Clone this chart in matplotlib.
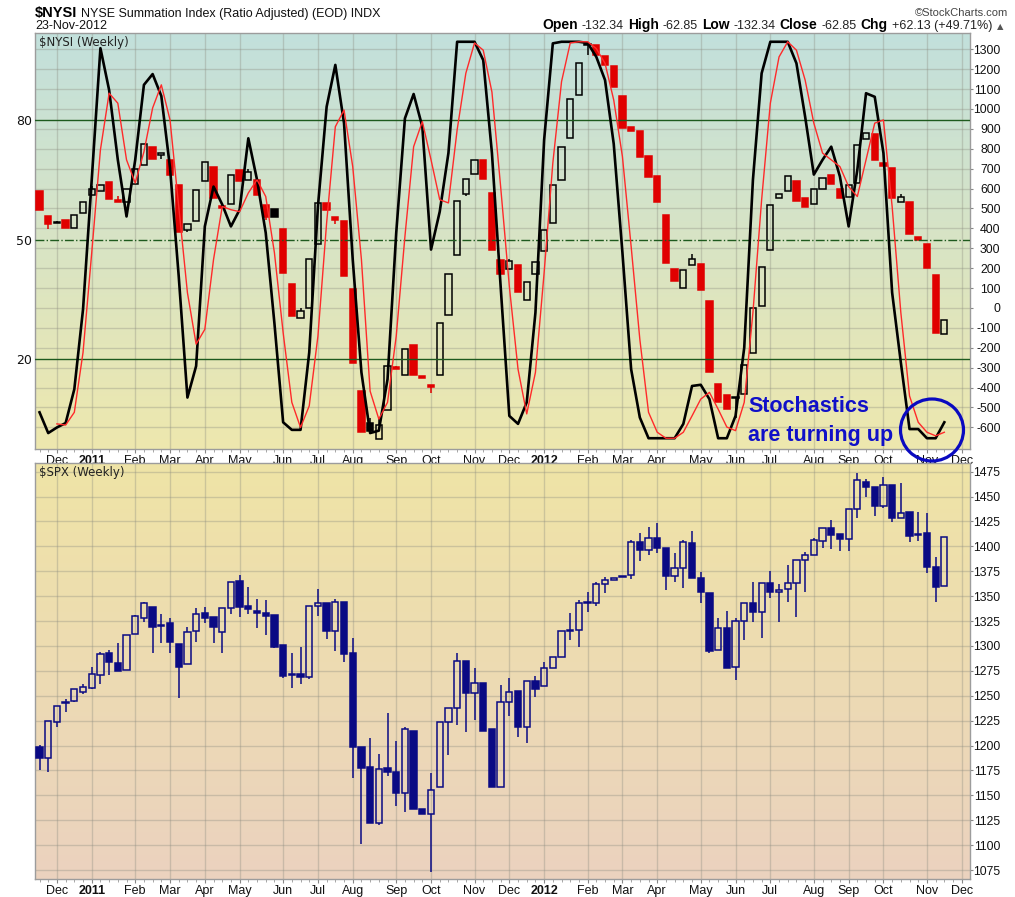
import matplotlib
matplotlib.use("Agg")
import matplotlib.pyplot as plt
from matplotlib.patches import Rectangle, Ellipse
from matplotlib.colors import LinearSegmentedColormap
import numpy as np
import pandas as pd

# ---- data (weekly, week of 22-Nov-2010 .. week of 19-Nov-2012) ----
first_week = "2010-11-22"

nysi_open = [590, 462, 430, 440, 403, 477, 570, 588, 632, 545,
             532, 623, 718, 810, 773, 743, 620, 390, 435, 637,
             710, 509, 520, 695, 643, 643, 518, 498, 398, 120,
             -52, -2, 323, 527, 457, 435, 93, -415, -580, -660,
             -515, -298, -335, -185, -345, -390, -335, -35, 265, 573,
             673, 743, 577, 243, 198, 218, 40, 173, 285, 428,
             643, 853, 1070, 1322, 1323, 1265, 1215, 1065, 910, 890,
             765, 665, 465, 198, 102, 215, 223, 35, -382, -440,
             -452, -435, -227, 10, 293, 552, 587, 637, 552, 520,
             598, 668, 598, 560, 628, 848, 873, 728, 702, 532,
             535, 357, 320, 165, -132.34]
nysi_high = [590, 462, 435, 440, 465, 532, 612, 618, 632, 565,
             598, 698, 823, 810, 775, 743, 620, 423, 593, 735,
             710, 509, 668, 695, 700, 643, 518, 498, 398, 120,
             -2, 248, 527, 527, 457, 435, 93, -415, -552, -552,
             -293, -290, -207, -185, -345, -390, -77, 173, 540, 648,
             743, 743, 577, 243, 248, 218, 132, 232, 393, 618,
             807, 1048, 1232, 1327, 1323, 1265, 1215, 1065, 910, 890,
             765, 665, 465, 198, 190, 273, 223, 35, -382, -440,
             -449, -285, -2, 207, 518, 573, 665, 637, 552, 598,
             653, 668, 598, 618, 818, 878, 873, 728, 702, 572,
             535, 357, 320, 165, -62.85]
nysi_low = [490, 398, 428, 403, 403, 477, 570, 588, 548, 532,
            532, 623, 718, 748, 748, 668, 382, 383, 435, 637,
            552, 505, 520, 637, 643, 568, 443, 457, 177, -40,
            -52, -2, 323, 493, 423, 162, -277, -622, -620, -660,
            -515, -305, -335, -335, -350, -430, -335, -35, 265, 562,
            673, 648, 293, 173, 198, 82, 40, 173, 285, 428,
            643, 853, 1070, 1273, 1270, 1223, 1112, 907, 890, 760,
            657, 532, 227, 137, 102, 215, 90, -323, -473, -507,
            -552, -435, -227, 10, 293, 552, 587, 540, 507, 520,
            598, 623, 553, 560, 628, 848, 743, 712, 553, 532,
            373, 340, 202, -127, -132.34]
nysi_close = [490, 420, 432, 403, 465, 532, 598, 618, 548, 532,
              598, 698, 823, 748, 775, 668, 382, 423, 593, 735,
              552, 505, 668, 637, 685, 568, 457, 457, 177, -40,
              -15, 248, 527, 493, 443, 162, -277, -622, -620, -590,
              -293, -305, -207, -335, -350, -394, -77, 173, 540, 648,
              743, 648, 293, 173, 237, 82, 132, 232, 393, 618,
              807, 1048, 1232, 1327, 1270, 1223, 1112, 907, 890, 760,
              657, 532, 227, 137, 190, 248, 90, -323, -473, -507,
              -449, -285, -2, 207, 518, 573, 665, 540, 507, 598,
              653, 623, 553, 618, 818, 878, 743, 712, 553, 557,
              373, 340, 202, -127, -62.85]

# slow stochastic of $NYSI: %K (black) and %D (red)
stoch_k = [6.7, 1.5, 2.9, 4.0, 12.5, 32.5, 65.0, 98.0, 87.5, 70.0,
           55.8, 70.0, 88.8, 91.5, 86.0, 68.0, 40.8, 10.4, 18.3, 53.3,
           63.3, 58.8, 53.3, 57.5, 75.4, 65.0, 51.7, 29.0, 4.2, 2.3,
           2.3, 21.7, 58.3, 83.3, 93.8, 79.2, 45.0, 16.7, 1.5, 2.1,
           15.0, 51.7, 80.4, 86.5, 78.3, 47.5, 57.0, 71.7, 99.6, 99.6,
           99.6, 95.0, 71.7, 38.3, 5.8, 3.8, 9.2, 31.7, 75.0, 99.2,
           99.6, 99.6, 99.6, 99.3, 95.8, 90.0, 74.0, 46.7, 17.5, 5.4,
           0.2, 0.2, 0.2, 0.2, 3.8, 13.3, 13.6, 10.0, 0.2, 0.2,
           5.8, 22.9, 65.0, 91.7, 99.6, 99.6, 99.6, 94.2, 80.8, 66.3,
           70.0, 73.3, 65.8, 53.3, 67.5, 86.7, 85.8, 71.7, 36.7, 19.2,
           2.5, 2.5, 0.2, 0.2, 4.2]
stoch_d = [None, None, 3.8, 3.5, 6.7, 21.7, 46.7, 72.5, 86.7, 84.2,
           70.0, 64.2, 72.0, 83.0, 88.8, 80.0, 58.3, 36.7, 23.8, 27.5,
           45.0, 58.3, 57.5, 57.0, 61.7, 65.0, 60.8, 46.7, 26.7, 9.2,
           2.9, 8.3, 25.8, 54.2, 78.3, 82.5, 68.3, 45.0, 12.0, 5.0,
           9.2, 25.8, 50.8, 73.3, 79.6, 70.0, 60.0, 59.2, 77.5, 91.7,
           99.3, 97.5, 87.0, 63.3, 38.3, 17.5, 6.3, 16.7, 41.7, 69.2,
           89.6, 99.3, 99.6, 99.6, 97.9, 94.2, 85.0, 70.8, 48.3, 25.0,
           6.7, 1.7, 0.2, 0.2, 1.7, 5.8, 10.0, 11.7, 7.5, 3.0,
           2.1, 9.2, 31.7, 60.0, 84.2, 95.8, 99.6, 97.5, 90.0, 79.2,
           71.7, 70.0, 68.3, 63.3, 60.8, 70.0, 79.2, 80.0, 58.3, 31.7,
           10.8, 4.2, 1.7, 0.8, 1.7]

spx_open = [1198.9, 1187.8, 1224.0, 1242.5, 1245.1, 1254.1, 1257.5, 1271.0, 1292.6, 1282.6,
            1275.8, 1311.7, 1328.4, 1338.8, 1321.0, 1322.7, 1301.6, 1281.5, 1315.0, 1332.8,
            1328.7, 1313.7, 1337.8, 1365.2, 1340.1, 1334.3, 1332.8, 1331.1, 1301.0, 1270.8,
            1271.8, 1268.5, 1340.1, 1342.8, 1315.4, 1344.5, 1292.6, 1198.5, 1178.0, 1122.5,
            1177.1, 1173.7, 1152.6, 1214.6, 1135.9, 1130.9, 1158.0, 1224.0, 1238.0, 1284.9,
            1253.1, 1263.1, 1216.3, 1158.0, 1244.1, 1254.8, 1219.0, 1264.8, 1259.8, 1277.5,
            1289.3, 1315.0, 1316.0, 1344.0, 1342.8, 1361.9, 1366.6, 1370.3, 1371.3, 1404.1,
            1396.4, 1408.1, 1398.1, 1370.6, 1378.6, 1403.0, 1368.0, 1352.9, 1296.0, 1318.4,
            1278.5, 1325.1, 1342.8, 1334.4, 1362.9, 1354.5, 1357.2, 1362.9, 1386.3, 1391.4,
            1405.4, 1418.1, 1412.1, 1407.1, 1437.2, 1464.3, 1460.0, 1440.9, 1461.7, 1428.2,
            1434.2, 1412.1, 1413.1, 1379.6, 1360.2]
spx_high = [1200.5, 1224.6, 1240.0, 1246.7, 1257.0, 1261.5, 1279.0, 1294.0, 1296.0, 1302.6,
            1311.0, 1331.1, 1344.5, 1338.8, 1331.8, 1327.7, 1301.6, 1319.4, 1337.8, 1339.5,
            1328.7, 1337.8, 1363.9, 1371.3, 1358.9, 1347.2, 1345.8, 1331.1, 1301.0, 1292.6,
            1299.3, 1340.1, 1356.9, 1342.8, 1346.8, 1344.5, 1307.7, 1198.5, 1207.9, 1191.1,
            1232.3, 1204.5, 1219.0, 1214.6, 1135.9, 1172.0, 1224.0, 1237.4, 1292.6, 1284.9,
            1277.5, 1263.1, 1216.3, 1260.8, 1268.2, 1254.8, 1264.8, 1269.8, 1284.2, 1289.3,
            1315.0, 1333.5, 1346.2, 1354.5, 1364.6, 1369.6, 1368.6, 1370.3, 1406.4, 1413.1,
            1419.8, 1423.2, 1398.1, 1393.0, 1406.4, 1415.5, 1374.0, 1352.9, 1328.4, 1335.1,
            1328.4, 1342.8, 1363.9, 1362.9, 1375.3, 1361.9, 1381.3, 1386.3, 1394.7, 1408.0,
            1418.1, 1426.5, 1412.1, 1437.2, 1473.4, 1467.7, 1460.0, 1470.0, 1461.7, 1463.3,
            1434.2, 1434.2, 1433.2, 1389.7, 1409.1]
spx_low = [1175.4, 1173.7, 1219.0, 1233.3, 1244.0, 1251.4, 1257.0, 1262.0, 1270.8, 1274.9,
           1275.8, 1311.7, 1324.4, 1292.6, 1302.6, 1292.6, 1248.1, 1281.5, 1304.3, 1322.7,
           1302.6, 1292.6, 1331.8, 1329.4, 1331.8, 1317.7, 1311.0, 1297.6, 1268.2, 1257.5,
           1261.5, 1266.8, 1330.4, 1306.7, 1294.9, 1283.6, 1167.7, 1100.8, 1122.5, 1120.2,
           1169.7, 1139.6, 1133.6, 1135.9, 1130.9, 1073.3, 1158.0, 1190.5, 1220.6, 1213.9,
           1225.6, 1214.6, 1158.0, 1158.0, 1230.0, 1208.9, 1202.2, 1248.4, 1259.8, 1277.5,
           1289.3, 1306.0, 1299.3, 1334.5, 1340.5, 1352.9, 1366.6, 1369.0, 1367.3, 1385.3,
           1391.4, 1393.0, 1356.2, 1364.6, 1358.6, 1367.9, 1342.8, 1292.6, 1296.0, 1277.5,
           1265.8, 1306.0, 1324.4, 1307.7, 1347.8, 1324.4, 1344.5, 1329.4, 1353.9, 1391.4,
           1398.0, 1397.1, 1395.4, 1395.4, 1428.2, 1450.0, 1430.9, 1438.2, 1424.8, 1428.2,
           1404.1, 1405.4, 1373.0, 1343.8, 1360.2]
spx_close = [1187.8, 1224.6, 1240.0, 1243.5, 1256.4, 1258.4, 1271.5, 1292.0, 1283.6, 1274.9,
             1311.0, 1330.1, 1343.5, 1319.4, 1320.5, 1304.3, 1279.2, 1314.4, 1331.8, 1328.4,
             1319.4, 1337.8, 1363.9, 1339.5, 1337.5, 1333.8, 1330.4, 1299.3, 1270.2, 1271.5,
             1268.5, 1340.1, 1342.8, 1315.4, 1344.5, 1291.9, 1198.9, 1177.8, 1122.5, 1176.1,
             1173.7, 1152.6, 1216.3, 1135.9, 1130.9, 1155.3, 1224.0, 1237.4, 1284.9, 1253.1,
             1263.1, 1214.6, 1158.0, 1244.1, 1254.1, 1219.0, 1264.8, 1256.8, 1277.5, 1289.3,
             1315.0, 1315.8, 1343.5, 1343.0, 1361.9, 1366.3, 1368.6, 1369.0, 1404.1, 1396.4,
             1408.1, 1398.1, 1370.6, 1378.6, 1404.1, 1368.6, 1354.5, 1295.0, 1318.4, 1277.5,
             1325.1, 1342.8, 1334.4, 1362.9, 1353.9, 1356.2, 1362.9, 1386.3, 1391.4, 1406.4,
             1418.1, 1411.4, 1407.1, 1437.2, 1466.7, 1460.0, 1440.9, 1461.7, 1428.2, 1433.2,
             1410.8, 1411.4, 1379.6, 1359.6, 1409.1]

nysi_ticks = list(range(-600, 1301, 100))
spx_ticks = list(range(1075, 1476, 25))
stoch_levels = [20, 50, 80]

# ---- figure ----
W, H = 1015, 897
fig = plt.figure(figsize=(W / 100, H / 100), dpi=100)
fig.patch.set_facecolor("white")
NARROW = ["Liberation Sans Narrow", "Liberation Sans", "DejaVu Sans"]
SANS = ["Liberation Sans", "DejaVu Sans"]


def px_box(left, top, right, bottom):
    return [left / W, 1 - bottom / H, (right - left) / W, (bottom - top) / H]


def gradient(ax, top, bottom):
    cmap = LinearSegmentedColormap.from_list("bg", [bottom, top])
    ax.imshow(np.linspace(0, 1, 256)[:, None], cmap=cmap, origin="lower",
              extent=[0, 1, 0, 1], transform=ax.transAxes, aspect="auto",
              zorder=0)


def draw_candles(ax, o, h, l, c, colors, filled, width, min_h, lw=1.1):
    for i in range(len(o)):
        lo, hi = min(o[i], c[i]), max(o[i], c[i])
        col = colors[i]
        if hi - lo < min_h:
            mid = (hi + lo) / 2
            lo, hi = mid - min_h / 2, mid + min_h / 2
        ax.vlines(i, hi, max(h[i], hi), color=col, lw=lw, zorder=3)
        ax.vlines(i, min(l[i], lo), lo, color=col, lw=lw, zorder=3)
        fc = col if filled[i] else "none"
        ax.add_patch(Rectangle((i - width / 2, lo), width, hi - lo,
                               facecolor=fc, edgecolor=col, lw=lw, zorder=3))


n = len(nysi_close)
weeks = pd.date_range(first_week, periods=n + 3, freq="W-MON")
month_idx, month_lab = [], []
for k in range(1, len(weeks)):
    if weeks[k].month != weeks[k - 1].month:
        month_idx.append(k)
        month_lab.append(str(weeks[k].year) if weeks[k].month == 1
                         else weeks[k].strftime("%b"))

xlim = (-0.52, 106.95)


def style_axes(ax):
    ax.set_xlim(*xlim)
    ax.set_xticks(month_idx)
    ax.set_xticks(range(n + 2), minor=True)
    ax.set_xticklabels(month_lab, fontsize=9, family=NARROW, color="#111")
    for t in ax.get_xticklabels():
        if t.get_text().isdigit():
            t.set_fontweight("bold")
    ax.tick_params(axis="x", which="major", length=3, pad=1, color="#888")
    ax.tick_params(axis="x", which="minor", length=2, color="#999")
    ax.grid(True, axis="both", which="major", color="#8c8c80", alpha=0.35,
            lw=1.0, zorder=1)
    ax.set_axisbelow(True)
    for s in ax.spines.values():
        s.set_color("#9c9c9c")
        s.set_linewidth(1.0)


def right_labels(ax, ticks):
    ax.yaxis.tick_right()
    ax.set_yticks(ticks)
    ax.set_yticklabels([str(t) for t in ticks])
    ax.tick_params(axis="y", length=2, color="#888", pad=20,
                   labelsize=8.8, labelcolor="#111")
    for t in ax.get_yticklabels():
        t.set_ha("right")
        t.set_family(NARROW)


# ---- top panel: $NYSI with stochastics ----
ax1 = fig.add_axes(px_box(35, 33, 970, 449))
axs = ax1.twinx()
gradient(ax1, "#c2e0dc", "#eee8ae")
red, black = "#e00000", "#000000"
ncol = [red] + [red if nysi_close[i] < nysi_close[i - 1] else black
                for i in range(1, n)]
nfill = [nysi_close[i] < nysi_open[i] for i in range(n)]
draw_candles(ax1, nysi_open, nysi_high, nysi_low, nysi_close, ncol, nfill,
             0.72, 6)
style_axes(ax1)
right_labels(ax1, nysi_ticks)
ax1.set_ylim(-709, 1382)

axs.yaxis.tick_left()
axs.set_ylim(-2.5, 101.8)
axs.set_yticks(stoch_levels)
axs.tick_params(axis="y", length=0, pad=2, labelsize=9, labelcolor="#111")
for lv in stoch_levels:
    axs.axhline(lv, color="#1e5a1e", lw=1.0,
                ls="-." if lv == 50 else "-", zorder=2)
xs = np.arange(n)
axs.plot(xs, stoch_k, color="#000000", lw=1.9, zorder=5)
axs.plot(xs, [np.nan if v is None else v for v in stoch_d],
         color="#ff2a2a", lw=1.0, zorder=6)
axs.set_xlim(*xlim)
for s in axs.spines.values():
    s.set_visible(False)
ax1.text(0.004, 0.992, "$NYSI (Weekly)", transform=ax1.transAxes,
         fontsize=8.5, family="DejaVu Sans", color="#222", va="top",
         zorder=7)

# ---- bottom panel: $SPX ----
ax2 = fig.add_axes(px_box(35, 463, 970, 879))
gradient(ax2, "#efe4a6", "#ebd2bf")
navy = "#0a0a84"
sfill = [spx_close[i] < spx_open[i] for i in range(n)]
draw_candles(ax2, spx_open, spx_high, spx_low, spx_close, [navy] * n, sfill,
             0.72, 1.2)
style_axes(ax2)
right_labels(ax2, spx_ticks)
ax2.set_ylim(1066, 1483.7)
ax2.text(0.004, 0.992, "$SPX (Weekly)", transform=ax2.transAxes,
         fontsize=8.5, family="DejaVu Sans", color="#222", va="top")

# ---- header ----
renderer = fig.canvas.get_renderer()


def fig_px(x, y):
    return x / W, 1 - y / H


t = fig.text(*fig_px(35, 17), "$NYSI", fontsize=10.5, fontweight="bold",
             family=SANS, va="baseline")
x0 = 35 + t.get_window_extent(renderer).width + 4
fig.text(*fig_px(x0, 17), "NYSE Summation Index (Ratio Adjusted) (EOD) INDX",
         fontsize=9, family=NARROW, va="baseline", color="#111")
fig.text(*fig_px(35, 29), "23-Nov-2012", fontsize=9, family=NARROW,
         va="baseline", color="#111")
fig.text(*fig_px(1008, 16), "\u00a9StockCharts.com", fontsize=8,
         family=NARROW, va="baseline", ha="right", color="#444")

pieces = [("Open", True), ("-132.34", False), ("High", True),
          ("-62.85", False), ("Low", True), ("-132.34", False),
          ("Close", True), ("-62.85", False), ("Chg", True),
          ("+62.13 (+49.71%)", False)]
xr = 992
t = fig.text(*fig_px(1003, 29), "\u25b2", fontsize=6, family="DejaVu Sans",
             va="baseline", ha="right", color="#555")
for s, bold in reversed(pieces):
    t = fig.text(*fig_px(xr, 29), s, fontsize=10 if bold else 9,
                 fontweight="bold" if bold else "normal", family=NARROW,
                 va="baseline", ha="right", color="#000" if bold else "#222")
    xr -= t.get_window_extent(renderer).width + 4

# ---- annotation ----
blue = "#1010c8"
fig.text(*fig_px(748, 412), "Stochastics", fontsize=15.5, fontweight="bold",
         family=SANS, color=blue, va="baseline")
fig.text(*fig_px(748, 441), "are turning up", fontsize=15.5,
         fontweight="bold", family=SANS, color=blue, va="baseline")
fig.add_artist(Ellipse(fig_px(932, 430), 63 / W, 62 / H,
                       transform=fig.transFigure, fill=False,
                       edgecolor="#0a0ac0", lw=2.3, zorder=10))

fig.savefig("out.png", dpi=100)
